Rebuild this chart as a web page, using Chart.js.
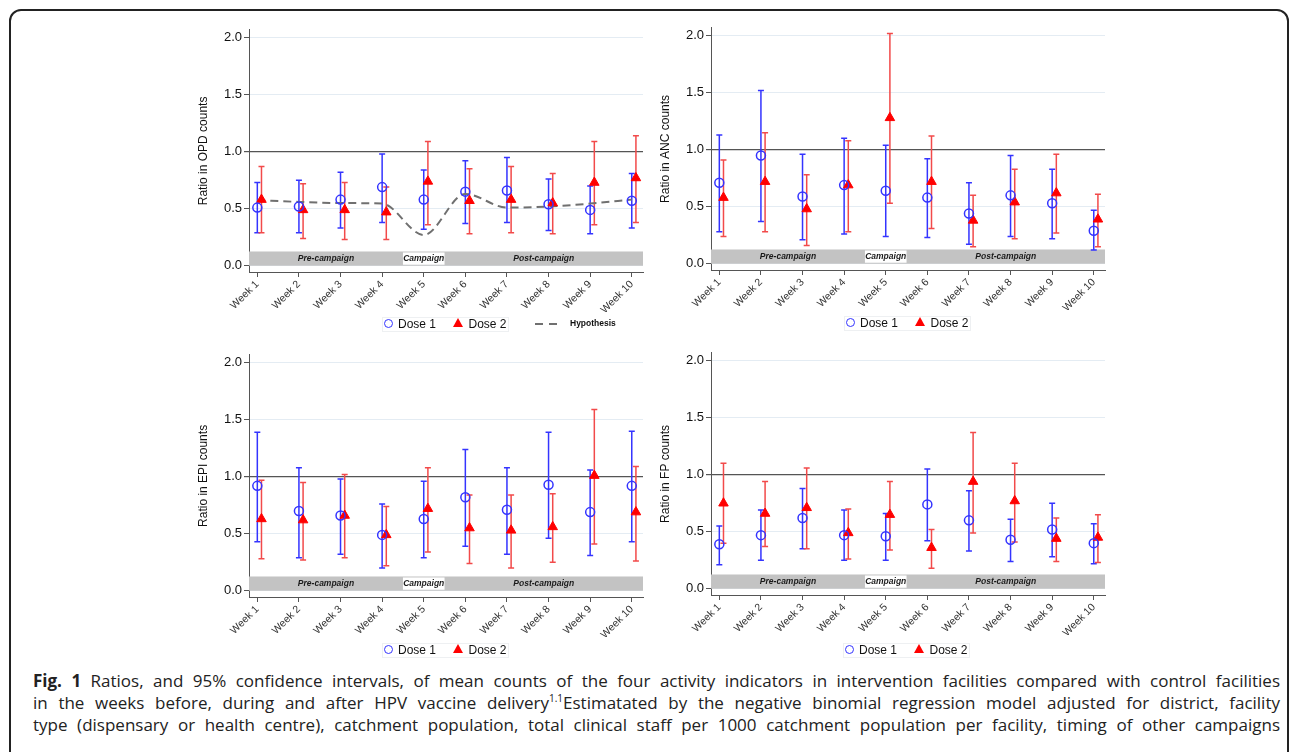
<!DOCTYPE html>
<html lang="en">
<head>
<meta charset="UTF-8">
<title>Fig. 1 activity indicator ratios</title>
<script src="https://cdn.jsdelivr.net/npm/chart.js"></script>
<style>
    body {
        margin: 0;
        width: 1292px;
        height: 752px;
        overflow: hidden;
        position: relative;
        background: #fff;
        font-family: "Liberation Sans", Arial, sans-serif;
    }
    .frame {
        position: absolute;
        left: 9px;
        top: 9px;
        width: 1280px;
        height: 900px;
        border: 2px solid #222;
        border-radius: 12px;
        box-sizing: border-box;
    }
    canvas {
        position: absolute;
    }
    .lg-box {
        position: absolute;
        height: 15px;
        width: 127px;
        border: 1px solid #eef0f2;
        box-sizing: border-box;
    }
    .lg-item {
        position: absolute;
        font-size: 12px;
        color: #111;
        line-height: 14px;
        white-space: nowrap;
    }
    .lg-circle {
        position: absolute;
        width: 9px;
        height: 9px;
        border: 1.5px solid #3434ff;
        border-radius: 50%;
        box-sizing: border-box;
    }
    .lg-tri {
        position: absolute;
        width: 0;
        height: 0;
        border-left: 5px solid transparent;
        border-right: 5px solid transparent;
        border-bottom: 9px solid #ff0000;
    }
    .lg-hyp {
        position: absolute;
        font-size: 8.5px;
        font-weight: bold;
        color: #111;
        white-space: nowrap;
    }
    .caption {
        position: absolute;
        left: 33px;
        top: 670px;
        width: 1247px;
        font-family: "Open Sans", sans-serif;
        font-size: 17px;
        line-height: 22px;
        color: #222;
    }
    .caption div {
        white-space: nowrap;
        text-align: justify;
        text-align-last: justify;
    }
    .caption sup {
        font-size: 10px;
        line-height: 0;
    }
</style>
</head>
<body>
<div class="frame"></div>

<canvas id="opdChart" width="460" height="300" style="left:190px;top:20px"></canvas>
<canvas id="ancChart" width="460" height="300" style="left:652px;top:18px"></canvas>
<canvas id="epiChart" width="460" height="300" style="left:190px;top:345px"></canvas>
<canvas id="fpChart" width="460" height="300" style="left:652px;top:343px"></canvas>

<div id="legends"></div>

<div class="caption">
    <div><b>Fig. 1</b> Ratios, and 95% confidence intervals, of mean counts of the four activity indicators in intervention facilities compared with control facilities</div>
    <div>in the weeks before, during and after HPV vaccine delivery<sup>1.1</sup>Estimatated by the negative binomial regression model adjusted for district, facility</div>
    <div>type (dispensary or health centre), catchment population, total clinical staff per 1000 catchment population per facility, timing of other campaigns</div>
</div>

<script>
    // weeks and axis ticks
    const weeks = [1, 2, 3, 4, 5, 6, 7, 8, 9, 10];
    const weekLabels = ['Week 1', 'Week 2', 'Week 3', 'Week 4', 'Week 5', 'Week 6', 'Week 7', 'Week 8', 'Week 9', 'Week 10'];
    const yTicks = [0, 0.5, 1, 1.5, 2];

    // campaign phases (week boundaries)
    const phaseNames = ['Pre-campaign', 'Campaign', 'Post-campaign'];
    const phaseEdges = [0.8, 4.5, 5.5, 10.27];
    const bandTop = 0.125;

    // OPD
    const opdD1 = [0.51, 0.52, 0.58, 0.69, 0.58, 0.65, 0.66, 0.54, 0.49, 0.57];
    const opdD1Lo = [0.29, 0.29, 0.33, 0.38, 0.32, 0.37, 0.38, 0.31, 0.28, 0.33];
    const opdD1Hi = [0.73, 0.75, 0.82, 0.98, 0.84, 0.92, 0.95, 0.76, 0.70, 0.81];
    const opdD2 = [0.58, 0.49, 0.49, 0.47, 0.74, 0.57, 0.58, 0.55, 0.73, 0.77];
    const opdD2Lo = [0.29, 0.24, 0.23, 0.23, 0.36, 0.28, 0.29, 0.28, 0.36, 0.38];
    const opdD2Hi = [0.87, 0.72, 0.73, 0.69, 1.09, 0.85, 0.87, 0.81, 1.09, 1.14];
    const opdHypothesis = [0.575, 0.56, 0.55, 0.545, 0.27, 0.63, 0.51, 0.52, 0.545, 0.58];

    // ANC
    const ancD1 = [0.71, 0.95, 0.59, 0.69, 0.64, 0.58, 0.44, 0.60, 0.53, 0.29];
    const ancD1Lo = [0.28, 0.37, 0.21, 0.26, 0.24, 0.23, 0.17, 0.24, 0.22, 0.12];
    const ancD1Hi = [1.13, 1.52, 0.96, 1.10, 1.04, 0.92, 0.71, 0.95, 0.83, 0.47];
    const ancD2 = [0.58, 0.72, 0.48, 0.69, 1.28, 0.72, 0.38, 0.54, 0.62, 0.39];
    const ancD2Lo = [0.24, 0.28, 0.16, 0.28, 0.53, 0.31, 0.15, 0.22, 0.27, 0.15];
    const ancD2Hi = [0.91, 1.15, 0.78, 1.08, 2.02, 1.12, 0.60, 0.83, 0.96, 0.61];

    // EPI
    const epiD1 = [0.92, 0.70, 0.66, 0.49, 0.63, 0.82, 0.71, 0.93, 0.69, 0.92];
    const epiD1Lo = [0.43, 0.29, 0.32, 0.20, 0.29, 0.39, 0.32, 0.46, 0.31, 0.43];
    const epiD1Hi = [1.39, 1.08, 0.98, 0.76, 0.96, 1.24, 1.08, 1.39, 1.06, 1.40];
    const epiD2 = [0.63, 0.62, 0.66, 0.49, 0.72, 0.55, 0.53, 0.56, 1.01, 0.69];
    const epiD2Lo = [0.28, 0.27, 0.29, 0.22, 0.34, 0.24, 0.20, 0.25, 0.41, 0.26];
    const epiD2Hi = [0.97, 0.95, 1.02, 0.74, 1.08, 0.84, 0.84, 0.85, 1.59, 1.09];

    // FP
    const fpD1 = [0.39, 0.47, 0.62, 0.47, 0.46, 0.74, 0.60, 0.43, 0.52, 0.40];
    const fpD1Lo = [0.21, 0.25, 0.35, 0.25, 0.25, 0.42, 0.33, 0.24, 0.28, 0.22];
    const fpD1Hi = [0.55, 0.69, 0.88, 0.69, 0.66, 1.05, 0.86, 0.61, 0.75, 0.57];
    const fpD2 = [0.75, 0.66, 0.71, 0.49, 0.65, 0.36, 0.94, 0.77, 0.44, 0.45];
    const fpD2Lo = [0.40, 0.37, 0.35, 0.26, 0.34, 0.18, 0.49, 0.41, 0.24, 0.23];
    const fpD2Hi = [1.10, 0.94, 1.06, 0.70, 0.94, 0.52, 1.37, 1.10, 0.62, 0.65];

    const dose2Shift = 0.1;
    const blue = '#3434ff';
    const red = '#ff0000';

    Chart.defaults.font.family = '"Liberation Sans", Arial, sans-serif';

    // grey phase band + error bars, drawn under the markers
    const bandPlugin = {
        id: 'phaseBand',
        beforeDatasetsDraw(chart) {
            const ctx = chart.ctx;
            const a = chart.chartArea;
            const x = chart.scales.x;
            const y = chart.scales.y;
            const yT = y.getPixelForValue(bandTop);
            const yB = y.getPixelForValue(0);
            ctx.save();
            ctx.fillStyle = '#c3c3c3';
            ctx.fillRect(a.left, yT, a.right - a.left, yB - yT);
            const c0 = x.getPixelForValue(phaseEdges[1]);
            const c1 = x.getPixelForValue(phaseEdges[2]);
            ctx.fillStyle = '#ffffff';
            ctx.fillRect(c0, yT + 1, c1 - c0, yB - yT - 2);
            ctx.fillStyle = '#1a1a1a';
            ctx.font = 'italic bold 8.5px "Liberation Sans", Arial, sans-serif';
            ctx.textAlign = 'center';
            ctx.textBaseline = 'middle';
            phaseNames.forEach((name, i) => {
                const mid = (phaseEdges[i] + phaseEdges[i + 1]) / 2;
                ctx.fillText(name, x.getPixelForValue(mid), (yT + yB) / 2 + 0.5);
            });

            chart.data.datasets.forEach(ds => {
                if (!ds.lo) return;
                ctx.strokeStyle = ds.barColor;
                ctx.lineWidth = 1.5;
                ds.data.forEach((p, i) => {
                    const px = x.getPixelForValue(p.x);
                    const lo = y.getPixelForValue(ds.lo[i]);
                    const hi = y.getPixelForValue(ds.hi[i]);
                    ctx.beginPath();
                    ctx.moveTo(px, lo);
                    ctx.lineTo(px, hi);
                    ctx.moveTo(px - 3, lo);
                    ctx.lineTo(px + 3, lo);
                    ctx.moveTo(px - 3, hi);
                    ctx.lineTo(px + 3, hi);
                    ctx.stroke();
                });
            });
            ctx.restore();
        }
    };

    function makeChart(id, title, d1, d1Lo, d1Hi, d2, d2Lo, d2Hi, hyp) {
        const datasets = [
            {
                label: 'Dose 1',
                data: weeks.map((w, i) => ({ x: w, y: d1[i] })),
                lo: d1Lo,
                hi: d1Hi,
                barColor: blue,
                pointStyle: 'circle',
                pointRadius: 4.5,
                borderColor: blue,
                backgroundColor: 'rgba(0,0,0,0)',
                borderWidth: 1.5
            },
            {
                label: 'Dose 2',
                data: weeks.map((w, i) => ({ x: w + dose2Shift, y: d2[i] })),
                lo: d2Lo,
                hi: d2Hi,
                barColor: '#f24a4a',
                pointStyle: 'triangle',
                pointRadius: 5.5,
                borderColor: red,
                backgroundColor: red,
                borderWidth: 1
            }
        ];
        if (hyp) {
            datasets.push({
                label: 'Hypothesis',
                data: weeks.map((w, i) => ({ x: w, y: hyp[i] })),
                showLine: true,
                cubicInterpolationMode: 'monotone',
                borderColor: '#707070',
                borderWidth: 2,
                borderDash: [8, 5],
                pointRadius: 0
            });
        }

        return new Chart(document.getElementById(id), {
            type: 'scatter',
            data: { datasets: datasets },
            plugins: [bandPlugin],
            options: {
                responsive: false,
                animation: false,
                devicePixelRatio: 1,
                layout: { padding: { left: 0, top: 9, right: 7, bottom: 8 } },
                plugins: {
                    legend: { display: false },
                    tooltip: { enabled: false }
                },
                scales: {
                    x: {
                        type: 'linear',
                        min: phaseEdges[0],
                        max: phaseEdges[3],
                        afterBuildTicks: s => { s.ticks = weeks.map(v => ({ value: v })); },
                        afterFit: s => { s.height = 40; },
                        ticks: {
                            autoSkip: false,
                            minRotation: 45,
                            maxRotation: 45,
                            padding: 1,
                            color: '#333',
                            font: { size: 10.5 },
                            callback: (v, i) => weekLabels[i]
                        },
                        grid: { drawOnChartArea: false, tickLength: 5, tickColor: '#555', color: '#555' },
                        border: { color: '#555', width: 1 }
                    },
                    y: {
                        min: -0.055,
                        max: 2.07,
                        afterBuildTicks: s => { s.ticks = yTicks.map(v => ({ value: v })); },
                        afterFit: s => { s.width = 59; },
                        ticks: {
                            padding: 2,
                            color: '#111',
                            font: { size: 13 },
                            callback: v => v.toFixed(1)
                        },
                        grid: {
                            color: c => (c.tick && c.tick.value === 1) ? '#555' : '#e4ecf3',
                            lineWidth: c => (c.tick && c.tick.value === 1) ? 1.2 : 1,
                            tickColor: '#555',
                            tickLength: 5
                        },
                        border: { color: '#555', width: 1 },
                        title: {
                            display: true,
                            text: title,
                            color: '#111',
                            font: { size: 12 },
                            padding: { top: 6, bottom: 0 }
                        }
                    }
                }
            }
        });
    }

    makeChart('opdChart', 'Ratio in OPD counts', opdD1, opdD1Lo, opdD1Hi, opdD2, opdD2Lo, opdD2Hi, opdHypothesis);
    makeChart('ancChart', 'Ratio in ANC counts', ancD1, ancD1Lo, ancD1Hi, ancD2, ancD2Lo, ancD2Hi, null);
    makeChart('epiChart', 'Ratio in EPI counts', epiD1, epiD1Lo, epiD1Hi, epiD2, epiD2Lo, epiD2Hi, null);
    makeChart('fpChart', 'Ratio in FP counts', fpD1, fpD1Lo, fpD1Hi, fpD2, fpD2Lo, fpD2Hi, null);

    // legends under each panel
    function addLegend(x0, cy, withHyp) {
        const host = document.getElementById('legends');
        let html = `<div class="lg-box" style="left:${x0}px;top:${cy - 7.5}px"></div>`;
        html += `<div class="lg-circle" style="left:${x0 + 1.5}px;top:${cy - 5}px"></div>`;
        html += `<div class="lg-item" style="left:${x0 + 16}px;top:${cy - 7}px">Dose 1</div>`;
        html += `<div class="lg-tri" style="left:${x0 + 70.5}px;top:${cy - 6}px"></div>`;
        html += `<div class="lg-item" style="left:${x0 + 86.5}px;top:${cy - 7}px">Dose 2</div>`;
        if (withHyp) {
            html += `<svg style="position:absolute;left:${x0 + 153}px;top:${cy - 3}px" width="24" height="6">` +
                `<line x1="0" y1="3" x2="24" y2="3" stroke="#707070" stroke-width="2" stroke-dasharray="8,6"/></svg>`;
            html += `<div class="lg-hyp" style="left:${x0 + 188}px;top:${cy - 6}px">Hypothesis</div>`;
        }
        host.insertAdjacentHTML('beforeend', html);
    }

    addLegend(382, 324, true);
    addLegend(844, 323, false);
    addLegend(382, 650, false);
    addLegend(843, 650, false);
</script>
</body>
</html>
